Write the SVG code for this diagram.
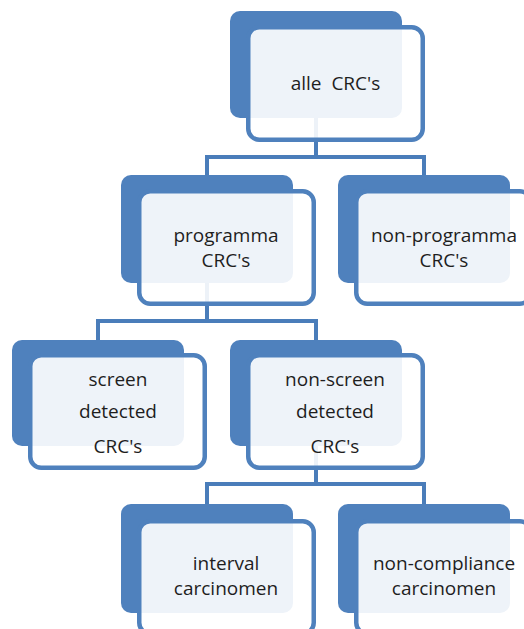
<svg xmlns="http://www.w3.org/2000/svg" width="524" height="629" viewBox="0 0 524 629">
<style>
.back{fill:#4F81BD;}
.front{fill:#FFFFFF;fill-opacity:0.9;stroke:#4F81BD;stroke-width:4.5;}
.conn{fill:none;stroke:#4A7DBA;stroke-width:4;}
text{font-family:"Open Sans","Liberation Sans",sans-serif;font-size:19px;fill:#1E1E1E;text-anchor:middle;white-space:pre;}
</style>
<rect width="524" height="629" fill="#FFFFFF"/>
<g id="connectors">
<path class="conn" d="M316 118 V157 M207 175 V157 H424 V175"/>
<path class="conn" d="M207 283 V321 M98 340 V321 H316 V340"/>
<path class="conn" d="M316 446 V484 M207 504 V484 H424 V504"/>
</g>
<g id="n_alle">
<rect class="back" x="230" y="11" width="172" height="107" rx="10"/>
<rect class="front" x="248.25" y="27.25" width="174.5" height="112.5" rx="11"/>
<text x="335.5" y="90" xml:space="preserve">alle  CRC's</text>
</g>
<g id="n_programma">
<rect class="back" x="121" y="175" width="172" height="108" rx="10"/>
<rect class="front" x="139.25" y="191.25" width="174.5" height="112.5" rx="11"/>
<text x="226" y="242">programma</text>
<text x="226" y="267">CRC's</text>
</g>
<g id="n_nonprogramma">
<rect class="back" x="338" y="175" width="172" height="108" rx="10"/>
<rect class="front" x="356.25" y="191.25" width="174.5" height="112.5" rx="11"/>
<text x="444" y="242">non-programma</text>
<text x="444" y="267">CRC's</text>
</g>
<g id="n_screen">
<rect class="back" x="12" y="340" width="172" height="106" rx="10"/>
<rect class="front" x="30.25" y="355.25" width="174.5" height="112.5" rx="11"/>
<text x="118" y="386">screen</text>
<text x="118" y="418">detected</text>
<text x="118" y="453">CRC's</text>
</g>
<g id="n_nonscreen">
<rect class="back" x="230" y="340" width="172" height="106" rx="10"/>
<rect class="front" x="248.25" y="355.25" width="174.5" height="112.5" rx="11"/>
<text x="335" y="386">non-screen</text>
<text x="335" y="418">detected</text>
<text x="335" y="453">CRC's</text>
</g>
<g id="n_interval">
<rect class="back" x="121" y="504" width="172" height="109" rx="10"/>
<rect class="front" x="139.25" y="521.25" width="174.5" height="112.5" rx="11"/>
<text x="226" y="570">interval</text>
<text x="226" y="595">carcinomen</text>
</g>
<g id="n_noncompliance">
<rect class="back" x="338" y="504" width="172" height="109" rx="10"/>
<rect class="front" x="356.25" y="521.25" width="174.5" height="112.5" rx="11"/>
<text x="444" y="570">non-compliance</text>
<text x="444" y="595">carcinomen</text>
</g>
</svg>
